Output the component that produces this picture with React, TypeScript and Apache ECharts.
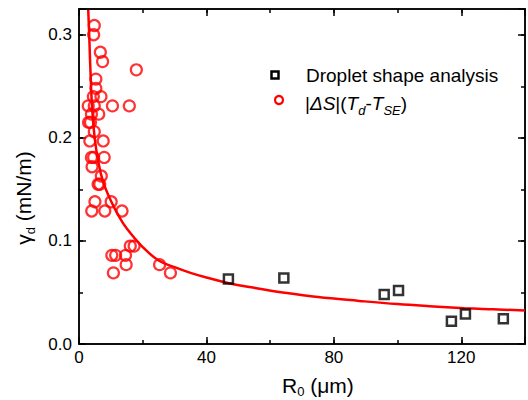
import React, { useEffect, useRef } from "react";
import * as echarts from "echarts";

// Red circles: |ΔS|(Td - TSE)
const circR = [4.8, 4.6, 6.7, 7.4, 18.0, 5.3, 5.3, 4.5, 6.9, 2.9, 4.8, 10.5, 15.8, 3.9, 6.2, 3.0, 3.6, 4.8, 3.4, 7.6, 3.9, 4.6, 7.9, 4.1, 7.0, 6.5, 6.0, 5.0, 10.1, 4.0, 8.1, 13.5, 10.3, 11.5, 14.6, 16.1, 17.3, 14.8, 10.8, 25.3, 28.7];
const circG = [0.309, 0.300, 0.283, 0.274, 0.266, 0.257, 0.248, 0.240, 0.240, 0.231, 0.231, 0.231, 0.231, 0.223, 0.223, 0.215, 0.215, 0.206, 0.197, 0.197, 0.181, 0.181, 0.181, 0.172, 0.163, 0.155, 0.155, 0.138, 0.138, 0.129, 0.129, 0.129, 0.086, 0.086, 0.086, 0.095, 0.095, 0.077, 0.069, 0.077, 0.069];

// Black squares: droplet shape analysis
const sqR = [46.9, 64.3, 95.8, 100.3, 116.9, 121.3, 133.2];
const sqG = [0.063, 0.064, 0.048, 0.052, 0.022, 0.029, 0.0245];

// Fit curve
const curveR = [2.9, 3.2, 3.7, 4.2, 5.0, 6.0, 7.5, 10, 12.5, 15, 20, 25, 30, 35, 40, 47, 55, 64, 75, 88, 100, 110, 121, 130, 140];
const curveG = [0.324, 0.300, 0.256, 0.225, 0.198, 0.178, 0.158, 0.139, 0.124, 0.112, 0.094, 0.081, 0.0745, 0.069, 0.0645, 0.059, 0.0545, 0.050, 0.0455, 0.0418, 0.0387, 0.0367, 0.0348, 0.0337, 0.0325];

const xMajorTicks = [0, 40, 80, 120];
const yMajorTicks = [0, 0.1, 0.2, 0.3];

const FONT = "'Liberation Sans', Arial, sans-serif";

export default function App() {
  const ref = useRef<HTMLDivElement>(null);
  useEffect(() => {
    if (!ref.current) return;
    const chart = echarts.init(ref.current, null, { renderer: "svg" });
    const lineStyle = { color: "#000", width: 1.5 };
    const xAxis = (position: string, major: boolean, labels: boolean) => ({
      type: "value",
      position,
      min: 0,
      max: 140,
      interval: major ? 40 : 20,
      axisLine: { show: true, onZero: false, lineStyle },
      axisTick: { show: true, inside: true, length: major ? 7 : 4, lineStyle },
      axisLabel: {
        show: labels,
        margin: 5,
        fontSize: 17,
        fontFamily: FONT,
        color: "#000",
        formatter: (v: number) => (xMajorTicks.includes(v) ? String(v) : ""),
      },
      splitLine: { show: false },
    });
    const yAxis = (position: string, major: boolean, labels: boolean) => ({
      type: "value",
      position,
      min: 0,
      max: 0.325,
      interval: major ? 0.1 : 0.05,
      axisLine: { show: true, onZero: false, lineStyle },
      axisTick: { show: true, inside: true, length: major ? 7 : 4, lineStyle },
      axisLabel: {
        show: labels,
        margin: 7,
        fontSize: 17,
        fontFamily: FONT,
        color: "#000",
        formatter: (v: number) =>
          yMajorTicks.some((t) => Math.abs(t - v) < 1e-6) ? v.toFixed(1) : "",
      },
      splitLine: { show: false },
    });

    const sub = { fontSize: 13, fontFamily: FONT, fill: "#000", padding: [14, 0, 0, 0] };
    const isub = { ...sub, fontStyle: "italic" };
    const ital = { fontSize: 19, fontFamily: FONT, fill: "#000", fontStyle: "italic" };

    chart.setOption({
      animation: false,
      grid: { left: 79, right: 1, top: 9, bottom: 56, containLabel: false },
      xAxis: [
        xAxis("bottom", false, false),
        xAxis("bottom", true, true),
        xAxis("top", false, false),
        xAxis("top", true, false),
      ],
      yAxis: [
        yAxis("left", false, false),
        yAxis("left", true, true),
        yAxis("right", false, false),
        yAxis("right", true, false),
      ],
      series: [
        {
          name: "fit",
          type: "line",
          xAxisIndex: 0,
          yAxisIndex: 0,
          data: curveR.map((r, i) => [r, curveG[i]]),
          showSymbol: false,
          smooth: 0.4,
          lineStyle: { color: "#ff0000", width: 2.5 },
          z: 2,
        },
        {
          name: "|ΔS|(Td-TSE)",
          type: "scatter",
          xAxisIndex: 0,
          yAxisIndex: 0,
          data: circR.map((r, i) => [r, circG[i]]),
          symbol: "circle",
          symbolSize: 11,
          itemStyle: { color: "rgba(0,0,0,0)", borderColor: "#ff0000", borderWidth: 2.2 },
          z: 3,
        },
        {
          name: "Droplet shape analysis",
          type: "scatter",
          xAxisIndex: 0,
          yAxisIndex: 0,
          data: sqR.map((r, i) => [r, sqG[i]]),
          symbol: "rect",
          symbolSize: 9,
          itemStyle: { color: "rgba(0,0,0,0)", borderColor: "#000", borderWidth: 2.5 },
          z: 3,
        },
      ],
      graphic: [
        {
          type: "rect",
          shape: { x: 271.5, y: 71.5, width: 7, height: 7 },
          style: { fill: "none", stroke: "#000", lineWidth: 2.5 },
        },
        {
          type: "circle",
          shape: { cx: 279, cy: 100, r: 4 },
          style: { fill: "none", stroke: "#ff0000", lineWidth: 2.2 },
        },
        {
          type: "text",
          x: 306,
          y: 75,
          style: {
            text: "Droplet shape analysis",
            fontSize: 19,
            fontFamily: FONT,
            fill: "#000",
            textAlign: "left",
            textVerticalAlign: "middle",
          },
        },
        {
          type: "text",
          x: 305,
          y: 103,
          style: {
            text: "|{i|ΔS}|({i|T}{s|d}-{i|T}{s|SE})",
            fontSize: 19,
            fontFamily: FONT,
            fill: "#000",
            textAlign: "left",
            textVerticalAlign: "middle",
            rich: { i: ital, s: isub },
          },
        },
        {
          type: "text",
          x: 282,
          y: 385,
          style: {
            text: "R{s|0} (μm)",
            fontSize: 21,
            fontFamily: FONT,
            fill: "#000",
            textAlign: "left",
            textVerticalAlign: "middle",
            rich: { s: { ...sub, padding: [12, 0, 0, 0] } },
          },
        },
        {
          type: "text",
          x: 23,
          y: 198,
          rotation: Math.PI / 2,
          style: {
            text: "γ{s|d} (mN/m)",
            fontSize: 21,
            fontFamily: FONT,
            fill: "#000",
            textAlign: "center",
            textVerticalAlign: "middle",
            rich: { s: sub },
          },
        },
      ],
    });
    return () => chart.dispose();
  }, []);
  return (
    <div
      ref={ref}
      style={{ position: "fixed", left: 0, top: 0, width: 528, height: 400, background: "#fff" }}
    />
  );
}
